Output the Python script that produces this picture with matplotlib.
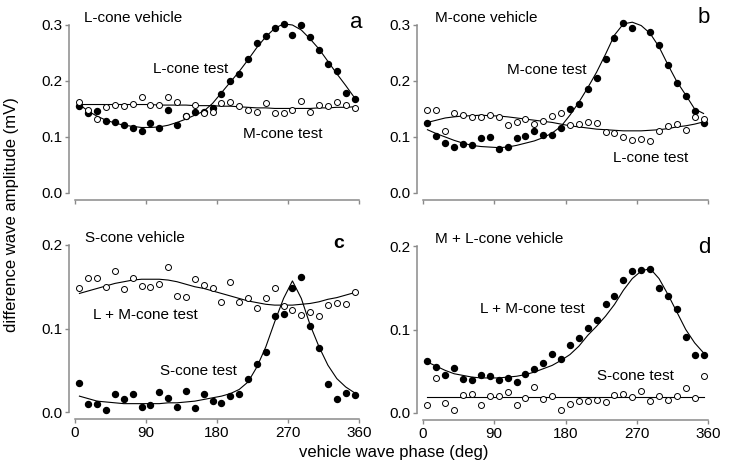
import matplotlib
matplotlib.use('Agg')
import matplotlib.pyplot as plt
import numpy as np

plt.rcParams['font.family'] = 'Liberation Sans'

# vehicle wave phase (deg) of each sample
phase = [5.625, 16.875, 28.125, 39.375, 50.625, 61.875, 73.125, 84.375,
         95.625, 106.875, 118.125, 129.375, 140.625, 151.875, 163.125, 174.375,
         185.625, 196.875, 208.125, 219.375, 230.625, 241.875, 253.125, 264.375,
         275.625, 286.875, 298.125, 309.375, 320.625, 331.875, 343.125, 354.375]

# panel a: L-cone vehicle
a_filled = [0.156, 0.143, 0.146, 0.128, 0.127, 0.122, 0.116, 0.111, 0.125, 0.116, 0.149, 0.122,
            0.137, 0.144, 0.145, 0.152, 0.177, 0.200, 0.213, 0.239, 0.268, 0.281, 0.295, 0.301,
            0.283, 0.300, 0.278, 0.255, 0.230, 0.218, 0.179, 0.168]
a_open = [0.162, 0.149, 0.132, 0.154, 0.157, 0.155, 0.159, 0.172, 0.157, 0.157, 0.171, 0.162,
          0.138, 0.158, 0.143, 0.145, 0.161, 0.162, 0.156, 0.148, 0.144, 0.161, 0.142, 0.143,
          0.149, 0.165, 0.144, 0.157, 0.155, 0.162, 0.158, 0.152]
a_filled_fit = [0.158, 0.146, 0.137, 0.130, 0.125, 0.121, 0.119, 0.117, 0.117, 0.118, 0.121, 0.126,
                0.132, 0.139, 0.146, 0.160, 0.179, 0.198, 0.217, 0.238, 0.260, 0.279, 0.294, 0.302,
                0.300, 0.291, 0.275, 0.257, 0.235, 0.213, 0.192, 0.170]
a_open_fit = [0.158, 0.158, 0.158, 0.158, 0.158, 0.158, 0.158, 0.158, 0.158, 0.157, 0.157, 0.157,
              0.157, 0.156, 0.156, 0.156, 0.155, 0.155, 0.154, 0.153, 0.152, 0.152, 0.151, 0.151,
              0.151, 0.151, 0.151, 0.152, 0.152, 0.153, 0.153, 0.154]

# panel b: M-cone vehicle
b_filled = [0.125, 0.102, 0.089, 0.082, 0.088, 0.086, 0.098, 0.100, 0.079, 0.082, 0.099, 0.101,
            0.110, 0.103, 0.103, 0.116, 0.150, 0.159, 0.185, 0.205, 0.240, 0.277, 0.304, 0.294,
            np.nan, 0.287, 0.264, 0.228, 0.196, 0.173, 0.147, 0.125]
b_open = [0.149, 0.148, 0.110, 0.142, 0.140, 0.136, 0.135, 0.139, 0.135, 0.122, 0.126, 0.132,
          0.124, 0.129, 0.137, 0.142, 0.122, 0.123, 0.127, 0.125, 0.109, 0.108, 0.100, 0.095,
          0.096, 0.093, 0.110, 0.120, 0.124, 0.112, 0.135, 0.132]
b_filled_fit = [0.113, 0.106, 0.100, 0.094, 0.089, 0.085, 0.083, 0.082, 0.081, 0.082, 0.085, 0.089,
                0.093, 0.099, 0.107, 0.119, 0.139, 0.162, 0.188, 0.216, 0.248, 0.282, 0.302, 0.305,
                0.299, 0.285, 0.261, 0.229, 0.199, 0.175, 0.150, 0.142]
b_open_fit = [0.126, 0.130, 0.134, 0.136, 0.1375, 0.138, 0.139, 0.138, 0.1375, 0.136, 0.134, 0.132,
              0.130, 0.128, 0.126, 0.123, 0.120, 0.118, 0.116, 0.114, 0.113, 0.112, 0.111, 0.111,
              0.111, 0.112, 0.113, 0.115, 0.118, 0.120, 0.123, 0.127]

# panel c: S-cone vehicle
c_filled = [0.035, 0.009, 0.009, 0.002, 0.022, 0.015, 0.022, 0.006, 0.008, 0.024, 0.017, 0.006,
            0.025, 0.005, 0.021, 0.013, 0.011, 0.019, 0.022, 0.039, 0.057, 0.072, 0.115, 0.117,
            0.149, 0.162, 0.103, 0.077, 0.034, 0.015, 0.023, 0.020]
c_open = [0.149, 0.161, 0.161, 0.150, 0.169, 0.147, 0.161, 0.151, 0.150, 0.153, 0.174, 0.139,
          0.138, 0.159, 0.152, 0.148, 0.132, 0.156, 0.132, 0.137, 0.125, 0.136, 0.148, 0.127,
          0.122, 0.116, 0.120, 0.115, 0.128, 0.130, 0.129, 0.144]
c_filled_fit = [0.019, 0.016, 0.013, 0.012, 0.011, 0.010, 0.010, 0.010, 0.010, 0.010, 0.011, 0.011,
                0.012, 0.013, 0.015, 0.017, 0.019, 0.022, 0.027, 0.036, 0.054, 0.078, 0.108, 0.136,
                0.157, 0.136, 0.104, 0.078, 0.056, 0.040, 0.030, 0.023]
c_open_fit = [0.142, 0.145, 0.148, 0.151, 0.154, 0.156, 0.158, 0.159, 0.159, 0.159, 0.158, 0.156,
              0.153, 0.150, 0.148, 0.145, 0.142, 0.139, 0.136, 0.133, 0.131, 0.129, 0.128, 0.128,
              0.128, 0.129, 0.130, 0.132, 0.135, 0.137, 0.140, 0.143]

# panel d: M + L-cone vehicle
d_filled = [0.062, 0.055, 0.046, 0.054, 0.041, 0.039, 0.045, 0.044, 0.039, 0.042, 0.037, 0.047,
            0.053, 0.060, 0.071, 0.065, 0.081, 0.090, 0.102, 0.111, 0.130, 0.140, 0.159, 0.170,
            0.171, 0.173, 0.150, 0.140, 0.124, 0.091, 0.070, 0.070]
d_open = [0.009, 0.042, 0.012, 0.004, 0.021, 0.023, 0.010, 0.020, 0.020, 0.025, 0.010, 0.018,
          0.031, 0.017, 0.020, 0.004, 0.011, 0.014, 0.014, 0.016, 0.013, 0.021, 0.023, 0.019,
          0.026, 0.014, 0.020, 0.016, 0.020, 0.030, 0.018, 0.044]
d_filled_fit = [0.061, 0.056, 0.051, 0.047, 0.045, 0.043, 0.042, 0.042, 0.042, 0.043, 0.044, 0.046,
                0.049, 0.053, 0.057, 0.063, 0.070, 0.080, 0.093, 0.104, 0.116, 0.130, 0.147, 0.161,
                0.170, 0.173, 0.161, 0.142, 0.121, 0.100, 0.084, 0.072]
d_open_fit = [0.019, 0.019, 0.019, 0.019, 0.019, 0.019, 0.019, 0.019, 0.019, 0.019, 0.019, 0.019,
              0.019, 0.019, 0.019, 0.019, 0.019, 0.019, 0.019, 0.019, 0.019, 0.019, 0.019, 0.019,
              0.019, 0.019, 0.019, 0.019, 0.019, 0.019, 0.019, 0.019]

xticks = [0, 90, 180, 270, 360]
yticks_top = [0.0, 0.1, 0.2, 0.3]
yticks_bottom = [0.0, 0.1, 0.2]

W, H = 732.0, 474.0
fig = plt.figure(figsize=(7.32, 4.74), dpi=100)
spine_col = '#8a8a8a'

def make_axes(x0, x1, y0, y1):
    # pixel box (top-left origin) -> figure fraction
    return fig.add_axes([x0 / W, 1 - y1 / H, (x1 - x0) / W, (y1 - y0) / H])

panels = [
    # box, ymax, yticks, filled, open, fits, labels
    ((75, 359, 25, 193), 0.3, yticks_top, a_filled, a_open, a_filled_fit, a_open_fit, False),
    ((423, 708, 25, 193), 0.3, yticks_top, b_filled, b_open, b_filled_fit, b_open_fit, False),
    ((75, 359, 245, 412), 0.2, yticks_bottom, c_filled, c_open, c_filled_fit, c_open_fit, True),
    ((423, 708, 246, 413), 0.2, yticks_bottom, d_filled, d_open, d_filled_fit, d_open_fit, True),
]

axes = []
for box, ymax, yt, filled, opn, ffit, ofit, xlab in panels:
    ax = make_axes(*box)
    ax.set_xlim(0, 360)
    ax.set_ylim(0, ymax)
    ax.patch.set_visible(False)
    for s in ['top', 'right']:
        ax.spines[s].set_visible(False)
    ax.spines['left'].set_position(('outward', 4))
    ax.spines['bottom'].set_position(('outward', 5))
    ax.spines['left'].set_bounds(0, ymax)
    ax.spines['bottom'].set_bounds(0, 360)
    for s in ['left', 'bottom']:
        ax.spines[s].set_color(spine_col)
        ax.spines[s].set_linewidth(1.1)
    ax.tick_params(direction='out', length=3, width=1, color=spine_col,
                   labelsize=11, pad=2)
    ax.set_xticks(xticks)
    ax.set_yticks(yt)
    ax.set_yticklabels(['%.1f' % v for v in yt])
    if xlab:
        ax.set_xticklabels([str(v) for v in xticks])
    else:
        ax.set_xticklabels([])

    ax.plot(phase, ffit, color='black', lw=0.8, clip_on=False, zorder=2)
    ax.plot(phase, ofit, color='black', lw=0.8, clip_on=False, zorder=2)
    ax.plot(phase, filled, 'o', color='black', ms=4.3, clip_on=False, zorder=3)
    ax.plot(phase, opn, 'o', mfc='white', mec='black', mew=0.7, ms=4.3,
            clip_on=False, zorder=4)
    axes.append(ax)

ax_a, ax_b, ax_c, ax_d = axes

ax_a.text(11.4, 0.305, 'L-cone vehicle', fontsize=11)
ax_a.text(348, 0.295, 'a', fontsize=16)
ax_a.text(99, 0.214, 'L-cone test', fontsize=11)
ax_a.text(213, 0.098, 'M-cone test', fontsize=11)

ax_b.text(15.2, 0.305, 'M-cone vehicle', fontsize=11)
ax_b.text(347, 0.304, 'b', fontsize=16)
ax_b.text(106, 0.2125, 'M-cone test', fontsize=11)
ax_b.text(240, 0.055, 'L-cone test', fontsize=11)

ax_c.text(12.7, 0.2037, 'S-cone vehicle', fontsize=11)
ax_c.text(327, 0.1965, 'c', fontsize=14, fontweight='bold')
ax_c.text(22.8, 0.111, 'L + M-cone test', fontsize=11)
ax_c.text(107.7, 0.044, 'S-cone test', fontsize=11)

ax_d.text(15.2, 0.204, 'M + L-cone vehicle', fontsize=11)
ax_d.text(347, 0.192, 'd', fontsize=16)
ax_d.text(72, 0.1197, 'L + M-cone test', fontsize=11)
ax_d.text(219.8, 0.039, 'S-cone test', fontsize=11)

fig.text(12 / W, 1 - 215 / H, 'difference wave amplitude (mV)', rotation=90,
         ha='center', va='center', fontsize=12)
fig.text(394 / W, 1 - 452 / H, 'vehicle wave phase (deg)',
         ha='center', va='center', fontsize=12)

fig.savefig('out.png', dpi=100)
